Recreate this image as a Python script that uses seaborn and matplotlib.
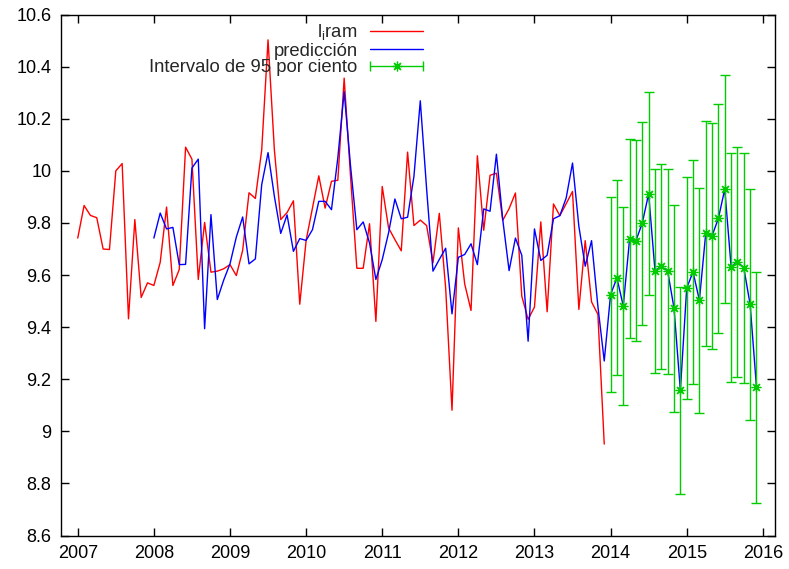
import numpy as np
import pandas as pd
import matplotlib
matplotlib.use("Agg")
import matplotlib.pyplot as plt
import seaborn as sns
from matplotlib.lines import Line2D
from matplotlib.legend_handler import HandlerBase

# Observed series (monthly, 2007-01 .. 2013-12)
obs_start = "2007-01"
l_iram = [
    9.742, 9.867, 9.829, 9.820, 9.700, 9.698, 10.000, 10.028, 9.432, 9.813, 9.514, 9.570,
    9.560, 9.649, 9.861, 9.560, 9.621, 10.091, 10.045, 9.583, 9.802, 9.611, 9.615, 9.624,
    9.640, 9.598, 9.695, 9.916, 9.894, 10.080, 10.503, 10.080, 9.813, 9.840, 9.885, 9.488,
    9.733, 9.857, 9.981, 9.857, 9.960, 9.964, 10.356, 9.980, 9.626, 9.626, 9.797, 9.422,
    9.940, 9.781, 9.736, 9.693, 10.072, 9.790, 9.811, 9.790, 9.647, 9.837, 9.550, 9.081,
    9.781, 9.566, 9.464, 10.058, 9.772, 9.983, 9.991, 9.810, 9.855, 9.915, 9.519, 9.430,
    9.477, 9.804, 9.459, 9.873, 9.828, 9.874, 9.921, 9.468, 9.732, 9.497, 9.449, 8.951,
]

# Fitted values and forecast (monthly, 2008-01 .. 2015-12)
pred_start = "2008-01"
prediccion = [
    9.742, 9.838, 9.777, 9.783, 9.640, 9.641, 10.011, 10.045, 9.394, 9.832, 9.506, 9.580,
    9.643, 9.746, 9.823, 9.643, 9.662, 9.947, 10.070, 9.902, 9.760, 9.831, 9.691, 9.740,
    9.733, 9.774, 9.883, 9.883, 9.851, 10.050, 10.304, 10.020, 9.774, 9.804, 9.723, 9.583,
    9.659, 9.762, 9.892, 9.816, 9.822, 9.979, 10.269, 9.930, 9.615, 9.660, 9.703, 9.451,
    9.668, 9.679, 9.720, 9.640, 9.854, 9.845, 10.064, 9.813, 9.617, 9.742, 9.676, 9.346,
    9.777, 9.656, 9.676, 9.816, 9.828, 9.896, 10.030, 9.787, 9.634, 9.732, 9.480, 9.270,
    9.525, 9.589, 9.481, 9.739, 9.732, 9.800, 9.912, 9.617, 9.634, 9.615, 9.473, 9.157,
    9.550, 9.612, 9.503, 9.760, 9.751, 9.818, 9.930, 9.632, 9.651, 9.628, 9.487, 9.170,
]

# Out-of-sample forecast with 95% interval (2014-01 .. 2015-12)
fc_start = "2014-01"
fc_center = [
    9.525, 9.589, 9.481, 9.739, 9.732, 9.800, 9.912, 9.617, 9.634, 9.615, 9.473, 9.157,
    9.550, 9.612, 9.503, 9.760, 9.751, 9.818, 9.930, 9.632, 9.651, 9.628, 9.487, 9.170,
]
fc_lower = [
    9.152, 9.215, 9.101, 9.358, 9.345, 9.410, 9.523, 9.223, 9.241, 9.219, 9.076, 8.759,
    9.123, 9.183, 9.071, 9.326, 9.315, 9.379, 9.491, 9.191, 9.208, 9.187, 9.044, 8.725,
]
fc_upper = [
    9.900, 9.966, 9.861, 10.122, 10.117, 10.188, 10.303, 10.007, 10.027, 10.009, 9.869, 9.555,
    9.976, 10.043, 9.935, 10.193, 10.185, 10.256, 10.368, 10.068, 10.090, 10.068, 9.929, 9.612,
]

year_ticks = list(range(2007, 2017))
y_ticks = [8.6, 8.8, 9.0, 9.2, 9.4, 9.6, 9.8, 10.0, 10.2, 10.4, 10.6]
y_tick_labels = ["8.6", "8.8", "9", "9.2", "9.4", "9.6", "9.8", "10", "10.2", "10.4", "10.6"]

labels = ["l$_{\\mathregular{i}}$ram", "predicción", "Intervalo de 95 por ciento"]
RED, BLUE, GREEN = "#ff0000", "#0000ff", "#00cc00"


def decimal_years(start, n):
    p = pd.period_range(start, periods=n, freq="M")
    return np.asarray(p.year + (p.month - 1) / 12.0, dtype=float)


class HandlerCappedBar(HandlerBase):
    """Legend key: horizontal bar with end caps and a centre marker."""

    def create_artists(self, legend, orig_handle, xdescent, ydescent,
                       width, height, fontsize, trans):
        yc = height / 2.0 - ydescent
        x0, x1 = -xdescent, width - xdescent
        c = orig_handle.get_color()
        bar = Line2D([x0, x1], [yc, yc], color=c, lw=1)
        caps = Line2D([x0, x1], [yc, yc], ls="none", marker="|", ms=7, mew=1, color=c)
        mark = Line2D([(x0 + x1) / 2], [yc], ls="none", marker=(8, 2, 0), ms=7, mew=0.9, color=c)
        for a in (bar, caps, mark):
            a.set_transform(trans)
        return [bar, caps, mark]


sns.set_style("ticks")
plt.rcParams["font.family"] = ["Liberation Sans", "DejaVu Sans"]
plt.rcParams["axes.linewidth"] = 1.0

W, H = 789, 569
fig = plt.figure(figsize=(W / 100, H / 100), dpi=100)
left, right, top, bottom = 61, 775, 14.6, 535.5
ax = fig.add_axes([left / W, 1 - bottom / H, (right - left) / W, (bottom - top) / H])

obs = pd.DataFrame({"t": decimal_years(obs_start, len(l_iram)), "v": l_iram})
pred = pd.DataFrame({"t": decimal_years(pred_start, len(prediccion)), "v": prediccion})
fc = pd.DataFrame({"t": decimal_years(fc_start, len(fc_center)), "c": fc_center,
                   "lo": fc_lower, "hi": fc_upper})

sns.lineplot(data=obs, x="t", y="v", color=RED, lw=1, estimator=None, ax=ax, legend=False)
sns.lineplot(data=pred, x="t", y="v", color=BLUE, lw=1, estimator=None, ax=ax, legend=False)

ax.errorbar(fc["t"], fc["c"], yerr=[fc["c"] - fc["lo"], fc["hi"] - fc["c"]],
            fmt="none", ecolor=GREEN, elinewidth=1, capsize=3.5, capthick=1, zorder=3)
ax.plot(fc["t"], fc["c"], ls="none", marker=(8, 2, 0), ms=7, mew=0.9, color=GREEN, zorder=4)

ax.set_xlim(2006.78, 2016.16)
ax.set_ylim(8.6, 10.6)
ax.set_xticks(year_ticks)
ax.set_xticklabels([str(y) for y in year_ticks])
ax.set_yticks(y_ticks)
ax.set_yticklabels(y_tick_labels)
ax.set_xlabel("")
ax.set_ylabel("")
ax.tick_params(direction="in", length=6, width=1, top=True, right=True,
               labelsize=13, pad=7, colors="black")
for s in ax.spines.values():
    s.set_visible(True)
    s.set_color("black")
    s.set_linewidth(1)

h_obs = Line2D([], [], color=RED, lw=1)
h_pred = Line2D([], [], color=BLUE, lw=1)
h_fc = Line2D([], [], color=GREEN, lw=1)
ax_w, ax_h = right - left, bottom - top
leg = ax.legend([h_obs, h_pred, h_fc], labels,
                handler_map={h_fc: HandlerCappedBar()},
                loc="upper right",
                bbox_to_anchor=((423 - left) / ax_w, 1 - (22.5 - top) / ax_h),
                markerfirst=False, frameon=False, fontsize=13.3,
                handlelength=2.85, handletextpad=0.7, labelspacing=0.0,
                borderpad=0, borderaxespad=0)

fig.savefig("out.png", dpi=100)
